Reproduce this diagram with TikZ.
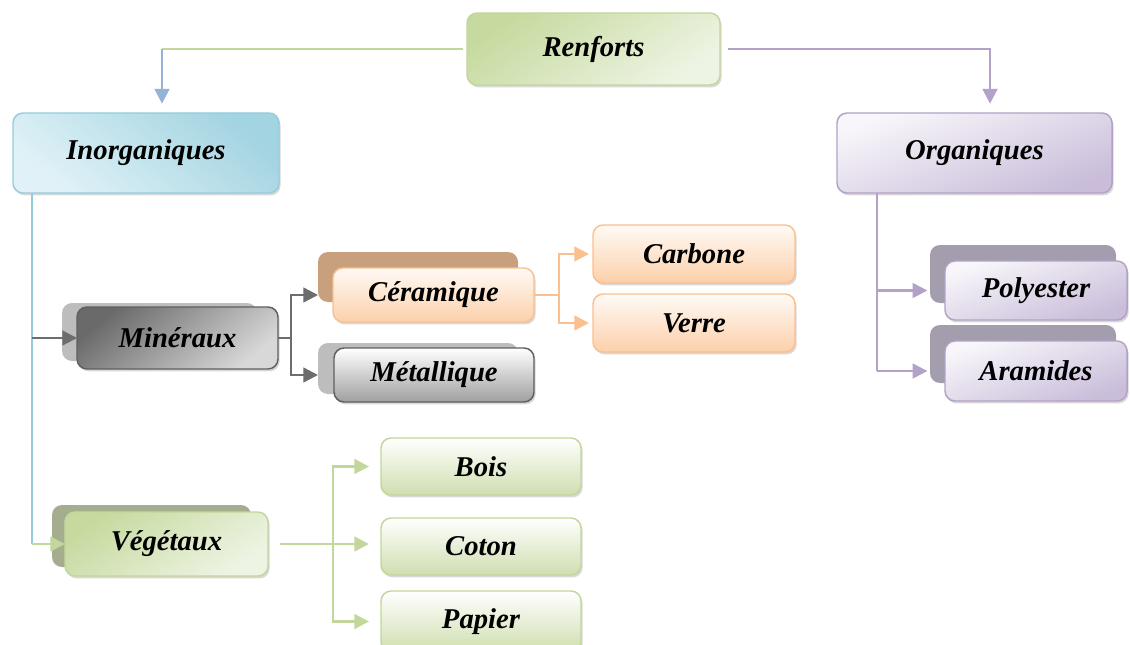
\documentclass[tikz,border=0pt]{standalone}
\usepackage{fontspec}
\setmainfont{Liberation Serif}
\usetikzlibrary{arrows.meta,shadows}
\definecolor{greenB}{HTML}{C3D69B}
\definecolor{greenD}{HTML}{C6DA9F}
\definecolor{greenL}{HTML}{EEF4E4}
\definecolor{blueB}{HTML}{93CDDD}
\definecolor{blueD}{HTML}{A3D4E1}
\definecolor{blueL}{HTML}{E0F2F7}
\definecolor{purpleB}{HTML}{B3A2C7}
\definecolor{purpleL}{HTML}{F8F6FA}
\definecolor{purpleD}{HTML}{C9BDDA}
\definecolor{grayB}{HTML}{5F5F5F}
\definecolor{grayD}{HTML}{6A6A6A}
\definecolor{grayL}{HTML}{D8D8D8}
\definecolor{orangeB}{HTML}{FAC090}
\definecolor{orangeD}{HTML}{FCD0AA}
\definecolor{orangeL}{HTML}{FFFAF6}
\definecolor{tanBack}{HTML}{C9A07E}
\definecolor{grayBack}{HTML}{BDBDBD}
\definecolor{purpleBack}{HTML}{A39DAE}
\definecolor{greenBack}{HTML}{A4AE8E}
\definecolor{blueLine}{HTML}{95B3D7}
\definecolor{grayLine}{HTML}{6D6D6D}
\newcommand\mybox[7]{\node[#6, minimum width={(#4-#2)*0.75pt}, minimum height={(#5-#3)*0.75pt}] (#1) at ({(#2+#4)/2},{(#3+#5)/2}) {#7};}
\begin{document}
\begin{tikzpicture}[x=0.75pt,y=-0.75pt,
  box/.style={draw, rounded corners=7.5pt, line width=1.1pt, inner sep=0pt, outer sep=0pt,
    font=\fontsize{21.5}{24}\selectfont\bfseries\itshape, text=black,
    drop shadow={shadow xshift=1.2pt, shadow yshift=-1.8pt, opacity=0.3}},
  backbox/.style={rounded corners=7.5pt, inner sep=0pt, outer sep=0pt},
  conn/.style={line width=1.8pt},
  arr/.style={conn, -{Triangle[length=11pt,width=11pt]}},
  greenbox/.style={box, draw=greenB, top color=greenD, bottom color=greenL, shading angle=35},
  bluebox/.style={box, draw=blueB, top color=blueD, bottom color=blueL, shading angle=-40},
  purplebox/.style={box, draw=purpleB, top color=purpleL, bottom color=purpleD, shading angle=20},
  darkbox/.style={box, draw=grayB, top color=grayD, bottom color=grayL, shading angle=40},
  metalbox/.style={box, draw=grayB, top color=white, bottom color=gray!75},
  orangebox/.style={box, draw=orangeB, top color=orangeL, bottom color=orangeD},
  leafbox/.style={box, draw=greenB, top color=white, bottom color=greenB!80},
]
\useasboundingbox (0,0) rectangle (1130,645);
\fill[white] (0,0) rectangle (1130,645);

% back boxes
\mybox{minb}{62}{303}{257}{361}{backbox, fill=grayBack}{}
\mybox{cerb}{318}{252}{518}{302}{backbox, fill=tanBack}{}
\mybox{metb}{318}{343}{518}{394}{backbox, fill=grayBack}{}
\mybox{polb}{930}{245}{1116}{303}{backbox, fill=purpleBack}{}
\mybox{arab}{930}{325}{1116}{383}{backbox, fill=purpleBack}{}
\mybox{vegb}{52}{505}{251}{567}{backbox, fill=greenBack}{}

% front boxes
\mybox{renf}{467}{13}{720}{85}{greenbox}{Renforts}
\mybox{inor}{13}{113}{279}{193}{bluebox}{Inorganiques}
\mybox{org}{837}{113}{1112}{193}{purplebox}{Organiques}
\mybox{min}{77}{307}{278}{369}{darkbox}{Minéraux}
\mybox{cer}{333}{268}{534}{322}{orangebox}{Céramique}
\mybox{met}{334}{348}{534}{402}{metalbox}{Métallique}
\mybox{carb}{593}{225}{795}{283}{orangebox}{Carbone}
\mybox{verre}{593}{294}{795}{352}{orangebox}{Verre}
\mybox{pol}{945}{261}{1127}{320}{purplebox}{Polyester}
\mybox{ara}{945}{341}{1127}{401}{purplebox}{Aramides}
\mybox{veg}{65}{512}{268}{576}{greenbox}{Végétaux}
\mybox{bois}{381}{438}{581}{495}{leafbox}{Bois}
\mybox{coton}{381}{518}{581}{575}{leafbox}{Coton}
\mybox{pap}{381}{591}{581}{652}{leafbox}{Papier}

% coordinates of vertical runs
\coordinate (lt) at (162,0);
\coordinate (rt) at (990,0);
\coordinate (iv) at (32,0);
\coordinate (mv) at (291,0);
\coordinate (cv) at (559,0);
\coordinate (ov) at (877,0);
\coordinate (vv) at (333,0);

% Renforts connectors
\draw[conn, greenB, shorten <=3pt] (renf.west) -- (renf.west -| lt);
\draw[arr, blueLine] (renf.west -| lt) -- ([yshift=7pt]lt |- inor.north);
\draw[arr, purpleB, shorten <=6pt] (renf.east) -| ([yshift=7pt]rt |- org.north);

% Inorganiques
\draw[conn, blueB] (inor.south -| iv) -- (veg.west -| iv);
\draw[arr, grayLine] (min.west -| iv) -- (min.west);
\draw[arr, greenB] (veg.west -| iv) -- (veg.west);

% Mineraux
\draw[conn, grayLine] (min.east) -- (min.east -| mv);
\draw[arr, grayLine] (min.east -| mv) |- (cer.west -| cerb.west);
\draw[arr, grayLine] (min.east -| mv) |- (met.west -| metb.west);

% Ceramique
\draw[conn, orangeB] (cer.east) -- (cer.east -| cv);
\draw[arr, orangeB, shorten >=3pt] (cer.east -| cv) |- (carb.west);
\draw[arr, orangeB, shorten >=3pt] (cer.east -| cv) |- (verre.west);

% Organiques
\draw[conn, purpleB] (org.south -| ov) -- (ara.west -| ov);
\draw[arr, purpleB, shorten >=2pt] (pol.west -| ov) -- (pol.west -| polb.west);
\draw[arr, purpleB, shorten >=2pt] (ara.west -| ov) -- (ara.west -| arab.west);

% Vegetaux
\draw[arr, greenB, shorten <=9pt, shorten >=9pt] (veg.east) -- (veg.east -| coton.west);
\draw[arr, greenB, shorten >=9pt] (veg.east -| vv) |- (bois.west);
\draw[arr, greenB, shorten >=9pt] (veg.east -| vv) |- (pap.west);
\end{tikzpicture}
\end{document}
